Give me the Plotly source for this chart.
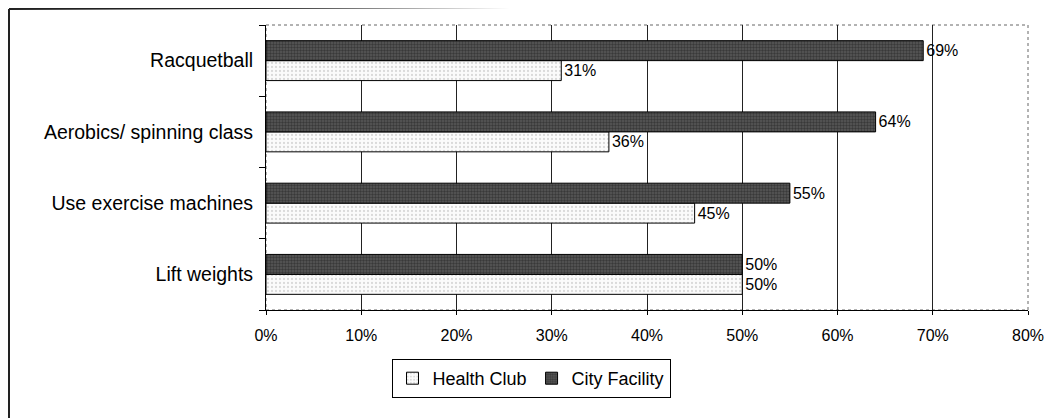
import plotly.graph_objects as go

categories = ["Lift weights", "Use exercise machines", "Aerobics/ spinning class", "Racquetball"]
health_club = [50, 45, 36, 31]
city_facility = [50, 55, 64, 69]
x_ticks = [0, 10, 20, 30, 40, 50, 60, 70, 80]
x_tick_labels = [f"{v}%" for v in x_ticks]

FONT = "Liberation Sans, Arial, sans-serif"
OFF = 8  # default page body margin
W, H = 1056 - OFF, 418 - OFF
# plot area in page pixels: x 266..1028, y 25..310
L = 266 - OFF
T = 25 - OFF
R = W - (1028 - OFF)
B = H - (310 - OFF)
pw, ph = W - L - R, H - T - B

def px(x):
    return (x - OFF - L) / pw

def py(y):
    return (H - B - (y - OFF)) / ph

fig = go.Figure()
fig.add_trace(go.Bar(
    y=categories, x=health_club, orientation="h", name="Health Club",
    marker=dict(color="#f4f4f4", line=dict(color="black", width=1),
                pattern=dict(shape=".", fgcolor="#b8b8b8", bgcolor="#fbfbfb", size=4, solidity=0.25)),
    text=[f"{v}%" for v in health_club], textposition="outside", cliponaxis=False,
    textfont=dict(family=FONT, size=16, color="black"),
))
fig.add_trace(go.Bar(
    y=categories, x=city_facility, orientation="h", name="City Facility",
    marker=dict(color="#3c3c3c", line=dict(color="black", width=1),
                pattern=dict(shape=".", fgcolor="#1a1a1a", bgcolor="#585858", size=3, solidity=0.5)),
    text=[f"{v}%" for v in city_facility], textposition="outside", cliponaxis=False,
    textfont=dict(family=FONT, size=16, color="black"),
))

shapes = [
    dict(type="rect", xref="paper", yref="paper", x0=0, x1=1, y0=0, y1=1,
         line=dict(color="#666666", width=1, dash="dot"), layer="below"),
    dict(type="line", xref="paper", yref="paper", x0=px(9), y0=py(9), x1=px(1056), y1=py(5),
         line=dict(color="#222222", width=2)),
    dict(type="line", xref="paper", yref="paper", x0=px(9), y0=py(9), x1=px(9), y1=py(418),
         line=dict(color="#222222", width=2)),
]

fig.update_layout(
    width=W, height=H,
    margin=dict(l=L, r=R, t=T, b=B),
    paper_bgcolor="white", plot_bgcolor="white",
    barmode="group", bargap=0.44, bargroupgap=0,
    font=dict(family=FONT, color="black"),
    shapes=shapes,
    showlegend=True,
    legend=dict(orientation="h", x=px(531), xanchor="center", y=py(359), yanchor="top",
                bordercolor="black", borderwidth=1, bgcolor="white",
                font=dict(family=FONT, size=18, color="black"),
                itemwidth=30, traceorder="normal"),
    xaxis=dict(range=[0, 80], tickvals=x_ticks, ticktext=x_tick_labels,
               showgrid=True, gridcolor="#222222", gridwidth=1,
               showline=True, linecolor="black", linewidth=1,
               ticks="outside", ticklen=4, tickcolor="black",
               ticklabelstandoff=7,
               tickfont=dict(family=FONT, size=16, color="black"),
               zeroline=False, fixedrange=True),
    yaxis=dict(categoryorder="array", categoryarray=categories,
               showline=True, linecolor="black", linewidth=1,
               ticks="outside", tickson="boundaries", ticklen=6, tickcolor="black",
               ticklabelstandoff=8, showgrid=False,
               tickfont=dict(family=FONT, size=19.5, color="black"),
               fixedrange=True),
)

fig.write_html("out.html")
